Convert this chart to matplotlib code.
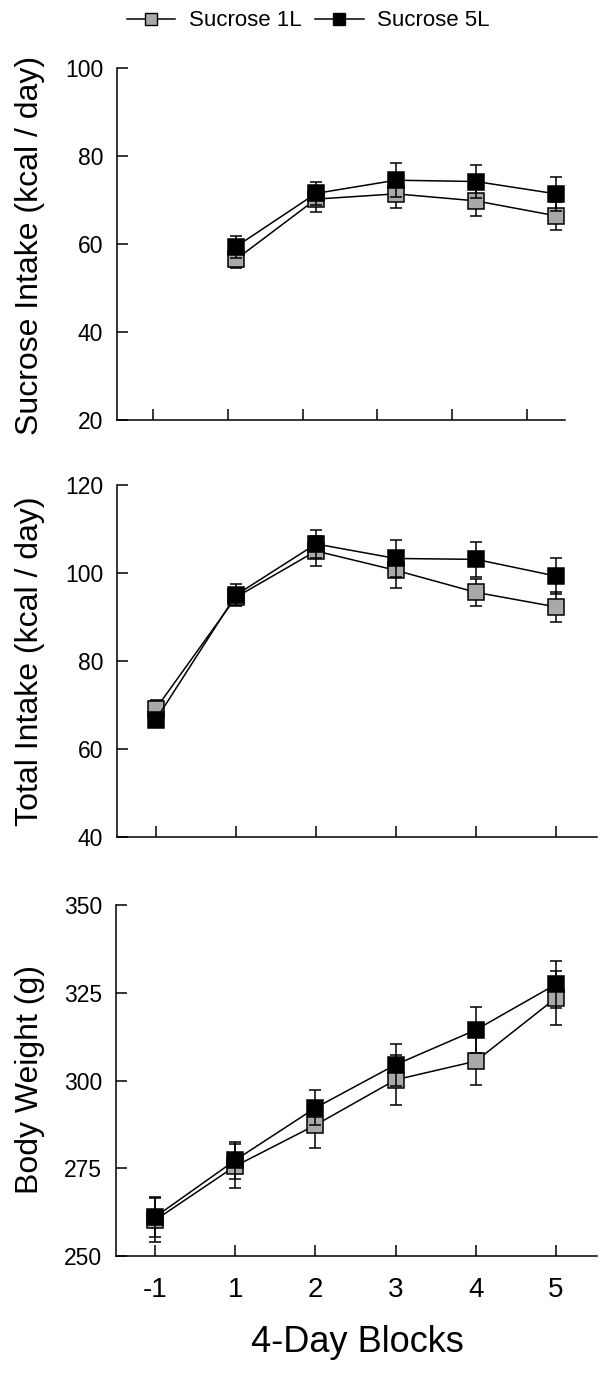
import numpy as np
import matplotlib
matplotlib.use("Agg")
import matplotlib.pyplot as plt
from matplotlib.lines import Line2D

plt.rcParams['font.family'] = ['Liberation Sans', 'DejaVu Sans']

# block labels (equally spaced on the x axis)
blocks = ['-1', '1', '2', '3', '4', '5']
pos = np.arange(len(blocks))

# Sucrose intake (no baseline block)
suc_1l = [56.5, 70.2, 71.4, 69.8, 66.4]
suc_1l_err = [2.0, 3.0, 3.3, 3.4, 3.2]
suc_5l = [59.4, 71.5, 74.5, 74.2, 71.4]
suc_5l_err = [2.5, 2.7, 3.8, 3.8, 3.8]

# Total intake
tot_1l = [69.2, 94.5, 105.0, 100.6, 95.6, 92.3]
tot_1l_err = [2.0, 1.8, 3.3, 3.9, 3.1, 3.4]
tot_5l = [66.7, 95.0, 106.6, 103.3, 103.1, 99.3]
tot_5l_err = [1.5, 2.4, 3.2, 4.2, 4.0, 4.1]

# Body weight
bw_1l = [260.2, 275.6, 287.3, 300.2, 305.5, 323.5]
bw_1l_err = [6.2, 6.3, 6.5, 7.2, 6.9, 7.6]
bw_5l = [261.1, 277.3, 292.2, 304.5, 314.4, 327.4]
bw_5l_err = [5.8, 5.3, 5.0, 6.0, 6.5, 6.7]

gray = '#a9a9a9'
W, H = 616, 1379
fig = plt.figure(figsize=(W / 100, H / 100), dpi=100)

def add_ax(top, bottom, left=117, right=597):
    return fig.add_axes([left / W, 1 - bottom / H, (right - left) / W, (bottom - top) / H])

ax1 = add_ax(68, 420)
ax2 = add_ax(485, 837)
ax3 = add_ax(905, 1256, left=116)

xlo, xhi = -0.4875, 5.5125

def series(ax, x, y, err, face, z):
    ax.errorbar(x, y, yerr=err, fmt='none', ecolor='black', elinewidth=1.1,
                capsize=4, capthick=1.1, zorder=z)
    ax.plot(x, y, color='black', lw=1.1, marker='s', markersize=11,
            markerfacecolor=face, markeredgecolor='black', markeredgewidth=1.1,
            zorder=z + 0.1)

series(ax1, pos[1:], suc_1l, suc_1l_err, gray, 2)
series(ax1, pos[1:], suc_5l, suc_5l_err, 'black', 2.2)
series(ax2, pos, tot_1l, tot_1l_err, gray, 2)
series(ax2, pos, tot_5l, tot_5l_err, 'black', 2.2)
series(ax3, pos, bw_1l, bw_1l_err, gray, 2)
series(ax3, pos, bw_5l, bw_5l_err, 'black', 2.2)

for ax, (lo, hi), yt in [(ax1, (20, 100), [20, 40, 60, 80, 100]),
                         (ax2, (40, 120), [40, 60, 80, 100, 120]),
                         (ax3, (250, 350), [250, 275, 300, 325, 350])]:
    ax.set_xlim(xlo, xhi)
    ax.set_ylim(lo, hi)
    ax.set_yticks(yt)
    ax.spines['top'].set_visible(False)
    ax.spines['right'].set_visible(False)
    for s in ('left', 'bottom'):
        ax.spines[s].set_linewidth(1.1)
    ax.tick_params(direction='in', length=8, width=1.1)
    ax.tick_params(axis='y', labelsize=16.5, pad=10)
    ax.set_xticks(pos)
    ax.set_xticklabels([])
    ax.patch.set_alpha(0)

# top panel axis is shorter and its ticks are compressed like the original
r = 0.9333
ax1.spines['bottom'].set_bounds(xlo, xlo + (xhi - xlo) * r)
ax1.set_xticks(xlo + (pos - xlo) * r)
ax1.set_xticklabels([])

ax3.set_xticklabels(blocks)
ax3.tick_params(axis='x', labelsize=20, pad=15)

fig.text(30 / W, 1 - 245 / H, 'Sucrose Intake (kcal / day)', rotation=90,
         ha='center', va='center', fontsize=23)
fig.text(30 / W, 1 - 661 / H, 'Total Intake (kcal / day)', rotation=90,
         ha='center', va='center', fontsize=23)
fig.text(30 / W, 1 - 1080 / H, 'Body Weight (g)', rotation=90,
         ha='center', va='center', fontsize=23)
fig.text(357 / W, 1 - 1342 / H, '4-Day Blocks', ha='center', va='center',
         fontsize=26)

handles = [Line2D([], [], color='black', lw=1.1, marker='s', markersize=9,
                  markerfacecolor=gray, markeredgecolor='black', markeredgewidth=1.0),
           Line2D([], [], color='black', lw=1.1, marker='s', markersize=9,
                  markerfacecolor='black', markeredgecolor='black', markeredgewidth=1.0)]
fig.legend(handles, ['Sucrose 1L', 'Sucrose 5L'], loc='center',
           bbox_to_anchor=(308 / W, 1 - 21 / H), ncol=2, frameon=False,
           fontsize=16, handlelength=2.2, handletextpad=0.6, columnspacing=0.6)

fig.savefig('out.png', dpi=100)
